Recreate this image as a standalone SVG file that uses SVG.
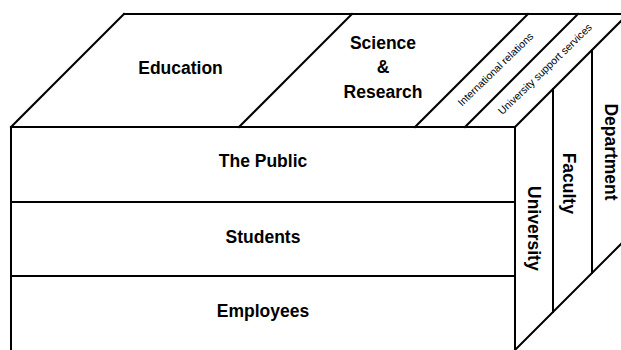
<svg xmlns="http://www.w3.org/2000/svg" width="621" height="350" viewBox="0 0 621 350">
  <style>
    .edge { stroke: #000; stroke-width: 2; fill: none; stroke-linecap: square; }
    .label { font-family: "Liberation Sans", Arial, sans-serif; font-weight: bold; font-size: 17.5px; fill: #000; text-anchor: middle; }
    .small { font-family: "Liberation Sans", Arial, sans-serif; font-size: 10.5px; fill: #000; text-anchor: middle; }
  </style>
  <rect width="621" height="350" fill="#fff"/>

  <!-- cube outline and partitions -->
  <g id="connectors">
    <!-- top face -->
    <line class="edge" x1="124" y1="14" x2="621" y2="14"/>
    <line class="edge" x1="11" y1="127" x2="124" y2="14"/>
    <line class="edge" x1="239" y1="127" x2="352" y2="14"/>
    <line class="edge" x1="415" y1="127" x2="528" y2="14"/>
    <line class="edge" x1="465" y1="127" x2="578" y2="14"/>
    <line class="edge" x1="515" y1="127" x2="621" y2="21"/>
    <!-- front face -->
    <line class="edge" x1="11" y1="127" x2="515" y2="127"/>
    <line class="edge" x1="11" y1="127" x2="11" y2="351"/>
    <line class="edge" x1="515" y1="127" x2="515" y2="351"/>
    <line class="edge" x1="11" y1="202" x2="515" y2="202"/>
    <line class="edge" x1="11" y1="276" x2="515" y2="276"/>
    <!-- side face -->
    <line class="edge" x1="553" y1="89" x2="553" y2="312"/>
    <line class="edge" x1="592" y1="50" x2="592" y2="273"/>
    <line class="edge" x1="515" y1="350" x2="621" y2="244"/>
  </g>

  <!-- top face: activities -->
  <g id="education">
    <text class="label" x="180.5" y="73.5">Education</text>
  </g>
  <g id="science-research">
    <text class="label" x="383" y="48.5">Science</text>
    <text class="label" x="383" y="72.5">&amp;</text>
    <text class="label" x="383" y="97.5">Research</text>
  </g>
  <g id="international-relations">
    <text class="small" transform="translate(498 72) rotate(-44)">International relations</text>
  </g>
  <g id="university-support-services">
    <text class="small" transform="translate(547.5 71.7) rotate(-44)">University support services</text>
  </g>

  <!-- front face: groups -->
  <g id="the-public">
    <text class="label" x="263" y="166.5">The Public</text>
  </g>
  <g id="students">
    <text class="label" x="263" y="242.5">Students</text>
  </g>
  <g id="employees">
    <text class="label" x="263" y="317">Employees</text>
  </g>

  <!-- side face: levels -->
  <g id="university">
    <text class="label" transform="translate(527.5 228.3) rotate(90)">University</text>
  </g>
  <g id="faculty">
    <text class="label" transform="translate(563 183.3) rotate(90)">Faculty</text>
  </g>
  <g id="department">
    <text class="label" transform="translate(605 152) rotate(90)">Department</text>
  </g>
</svg>
